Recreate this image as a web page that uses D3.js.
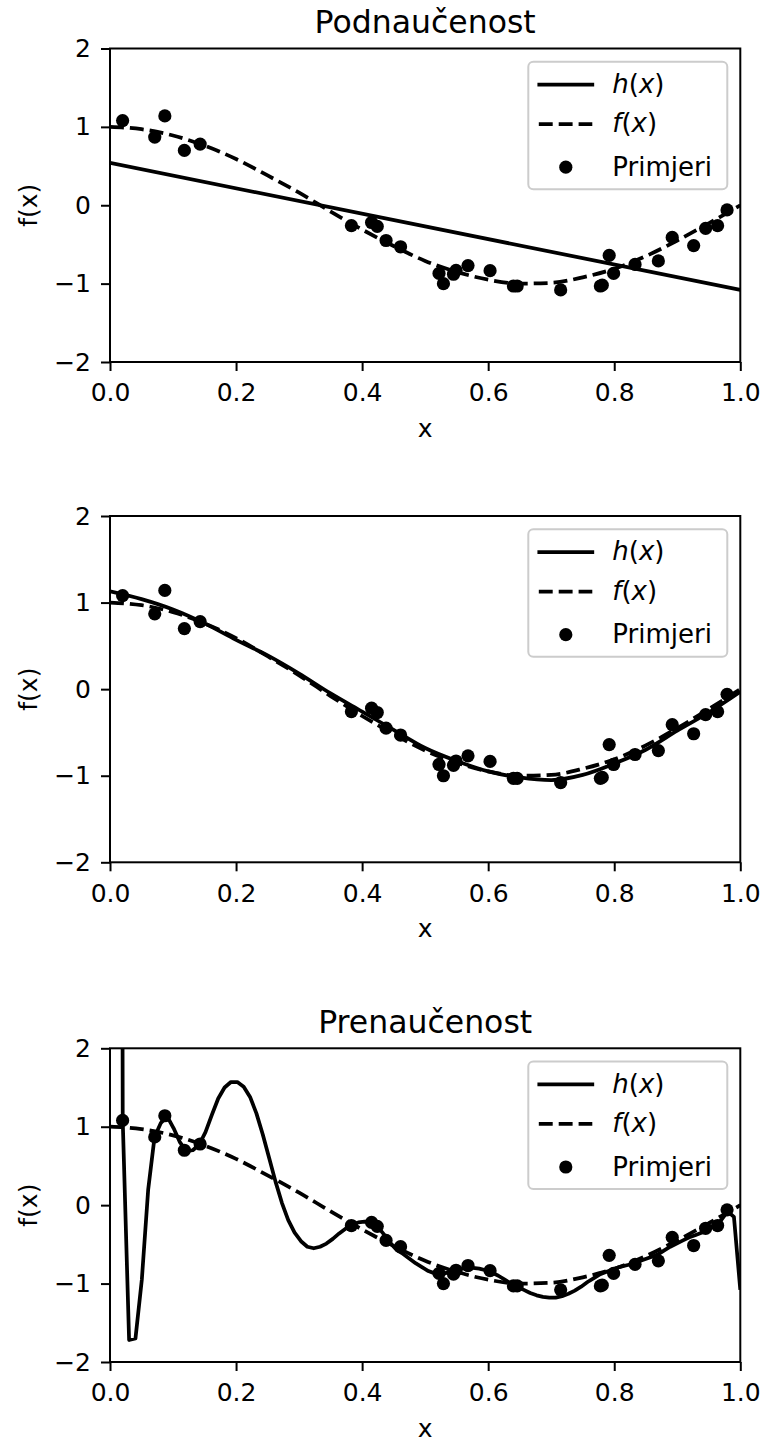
<!DOCTYPE html>
<html>
<head>
<meta charset="utf-8">
<script src="https://cdn.jsdelivr.net/npm/d3@7"></script>
<style>
    html, body { margin: 0; padding: 0; background: #fff; }
    svg { display: block; }
</style>
</head>
<body>
<div id="chart"></div>
<script>
// primjeri (uzorci) - očitano sa slike
const sampleX = [0.020, 0.071, 0.087, 0.118, 0.143, 0.383, 0.415, 0.424, 0.438, 0.461,
    0.522, 0.529, 0.545, 0.549, 0.568, 0.603, 0.640, 0.646, 0.715, 0.778,
    0.781, 0.792, 0.799, 0.833, 0.870, 0.892, 0.926, 0.945, 0.964, 0.979];
const sampleY = [1.08, 0.87, 1.14, 0.70, 0.78, -0.26, -0.22, -0.27, -0.45, -0.53,
    -0.87, -1.00, -0.88, -0.83, -0.77, -0.835, -1.03, -1.03, -1.08, -1.03,
    -1.02, -0.64, -0.87, -0.755, -0.71, -0.41, -0.515, -0.295, -0.26, -0.06];

// prava funkcija f(x)
const trueX = [0, 0.05, 0.1, 0.15, 0.2, 0.25, 0.3, 0.35, 0.4, 0.45, 0.5,
    0.55, 0.6, 0.65, 0.7, 0.75, 0.8, 0.85, 0.9, 0.95, 1.0];
const trueY = [1.0, 0.97, 0.89, 0.76, 0.59, 0.38, 0.16, -0.08, -0.31, -0.52, -0.71,
    -0.85, -0.95, -1.0, -0.99, -0.92, -0.81, -0.65, -0.45, -0.23, 0.0];

// h(x) - podnaučenost (pravac)
const h1X = [0, 1];
const h1Y = [0.54, -1.08];

// h(x) - dobar model
const h2X = trueX;
const h2Y = [1.13, 1.04, 0.92, 0.76, 0.57, 0.39, 0.18, -0.05, -0.26, -0.47, -0.68,
    -0.83, -0.95, -1.02, -1.05, -0.99, -0.86, -0.70, -0.48, -0.27, -0.03];

// h(x) - prenaučenost
const h3X = [0, 0.0101, 0.0202, 0.0303, 0.0404, 0.0505, 0.0606, 0.0707, 0.0808, 0.0909,
    0.1010, 0.1111, 0.1212, 0.1313, 0.1414, 0.1515, 0.1616, 0.1717, 0.1818, 0.1919,
    0.2020, 0.2121, 0.2222, 0.2323, 0.2424, 0.2525, 0.2626, 0.2727, 0.2828, 0.2929,
    0.3030, 0.3131, 0.3232, 0.3333, 0.3434, 0.3535, 0.3636, 0.3737, 0.3838, 0.3939,
    0.4040, 0.4141, 0.4242, 0.4343, 0.4444, 0.4545, 0.4646, 0.4747, 0.4848, 0.4949,
    0.5051, 0.5152, 0.5253, 0.5354, 0.5455, 0.5556, 0.5657, 0.5758, 0.5859, 0.5960,
    0.6061, 0.6162, 0.6263, 0.6364, 0.6465, 0.6566, 0.6667, 0.6768, 0.6869, 0.6970,
    0.7071, 0.7172, 0.7273, 0.7374, 0.7475, 0.7576, 0.7677, 0.7778, 0.7879, 0.7980,
    0.8081, 0.8182, 0.8283, 0.8384, 0.8485, 0.8586, 0.8687, 0.8788, 0.8889, 0.8990,
    0.9091, 0.9192, 0.9293, 0.9394, 0.9495, 0.9596, 0.9697, 0.9798, 0.9899, 1.0];
const h3Y = [90, 40, 1.08, -1.72, -1.70, -0.95, 0.20, 0.87, 1.05, 1.13,
    0.98, 0.80, 0.69, 0.70, 0.77, 0.93, 1.15, 1.36, 1.50, 1.57,
    1.57, 1.51, 1.38, 1.17, 0.90, 0.60, 0.30, 0.03, -0.19, -0.35,
    -0.46, -0.53, -0.55, -0.53, -0.49, -0.43, -0.36, -0.30, -0.25, -0.22,
    -0.21, -0.22, -0.27, -0.37, -0.48, -0.57, -0.62, -0.68, -0.74, -0.79,
    -0.84, -0.87, -0.88, -0.86, -0.83, -0.81, -0.80, -0.80, -0.81, -0.83,
    -0.86, -0.90, -0.95, -1.00, -1.04, -1.08, -1.12, -1.15, -1.17, -1.18,
    -1.18, -1.16, -1.13, -1.09, -1.04, -0.98, -0.93, -0.88, -0.85, -0.82,
    -0.79, -0.77, -0.75, -0.72, -0.69, -0.66, -0.63, -0.58, -0.53, -0.49,
    -0.45, -0.41, -0.38, -0.35, -0.31, -0.26, -0.19, -0.08, -0.15, -1.08];

const xTicks = [0, 0.2, 0.4, 0.6, 0.8, 1.0];
const yTicks = [-2, -1, 0, 1, 2];
const legendLabels = ['h(x)', 'f(x)', 'Primjeri'];

const width = 767;
const height = 1442;
const FONT = "'DejaVu Sans', sans-serif";
const LEFT = 110;
const RIGHT = 740.3;

const panels = [
    { title: 'Podnaučenost', top: 48.5, bottom: 362, hX: h1X, hY: h1Y, curve: d3.curveLinear },
    { title: null, top: 516, bottom: 862.3, hX: h2X, hY: h2Y, curve: d3.curveMonotoneX },
    { title: 'Prenaučenost', top: 1048.3, bottom: 1362, hX: h3X, hY: h3Y, curve: d3.curveLinear }
];

const svg = d3
    .select('#chart')
    .append('svg')
    .attr('width', width)
    .attr('height', height)
    .attr('viewBox', [0, 0, width, height])
    .attr('font-family', FONT);

const defs = svg.append('defs');

// math tekst: h(x) -> kurziv za slova
const mathLabel = (text, label) => {
    const m = label.match(/^(\w)\((\w)\)$/);
    if (!m) {
        text.text(label);
        return;
    }
    text.append('tspan').attr('font-style', 'italic').text(m[1]);
    text.append('tspan').text('(');
    text.append('tspan').attr('font-style', 'italic').text(m[2]);
    text.append('tspan').text(')');
};

const drawLegend = (g, p) => {
    const bx = RIGHT - 13 - 199;
    const by = p.top + 13.2;
    const lg = g.append('g').attr('transform', `translate(${bx},${by})`);

    lg.append('rect')
        .attr('x', 0)
        .attr('y', 0)
        .attr('width', 199)
        .attr('height', 127.6)
        .attr('rx', 5)
        .attr('fill', '#fff')
        .attr('fill-opacity', 0.8)
        .attr('stroke', '#cccccc')
        .attr('stroke-width', 2);

    const rows = [31.3, 70.8, 114];
    rows.forEach((base, i) => {
        const cy = base - 8.5;
        if (i < 2) {
            lg.append('line')
                .attr('x1', i === 0 ? 11 : 10.5)
                .attr('x2', 64)
                .attr('y1', cy)
                .attr('y2', cy)
                .attr('stroke', '#000')
                .attr('stroke-width', 3.75)
                .attr('stroke-linecap', i === 0 ? 'square' : 'butt')
                .attr('stroke-dasharray', i === 1 ? '13.9,6' : null);
        } else {
            lg.append('circle').attr('cx', 37.5).attr('cy', cy).attr('r', 6.6).attr('fill', '#000');
        }
        const t = lg.append('text').attr('x', 84).attr('y', base).attr('font-size', 26).attr('fill', '#000');
        mathLabel(t, legendLabels[i]);
    });
};

const drawPanel = (p, i) => {
    const g = svg.append('g');
    const x = d3.scaleLinear().domain([0, 1]).range([LEFT, RIGHT]);
    const y = d3.scaleLinear().domain([-2, 2]).range([p.bottom, p.top]);

    defs.append('clipPath')
        .attr('id', `clip${i}`)
        .append('rect')
        .attr('x', LEFT)
        .attr('y', p.top)
        .attr('width', RIGHT - LEFT)
        .attr('height', p.bottom - p.top);

    const plot = g.append('g').attr('clip-path', `url(#clip${i})`);
    const line = d3
        .line()
        .x((d) => x(d[0]))
        .y((d) => y(d[1]));

    // h(x)
    plot.append('path')
        .datum(d3.zip(p.hX, p.hY))
        .attr('d', line.curve(p.curve))
        .attr('fill', 'none')
        .attr('stroke', '#000')
        .attr('stroke-width', 3.75)
        .attr('stroke-linejoin', 'round');

    // f(x)
    plot.append('path')
        .datum(d3.zip(trueX, trueY))
        .attr('d', line.curve(d3.curveMonotoneX))
        .attr('fill', 'none')
        .attr('stroke', '#000')
        .attr('stroke-width', 3.75)
        .attr('stroke-dasharray', '13.9,6');

    // primjeri
    plot.append('g')
        .selectAll('circle')
        .data(d3.zip(sampleX, sampleY))
        .join('circle')
        .attr('cx', (d) => x(d[0]))
        .attr('cy', (d) => y(d[1]))
        .attr('r', 6.6)
        .attr('fill', '#000');

    // osi
    const xAxis = d3.axisBottom(x).tickValues(xTicks).tickFormat(d3.format('.1f')).tickSize(9).tickPadding(12.5).tickSizeOuter(0);
    const yAxis = d3.axisLeft(y).tickValues(yTicks).tickFormat(d3.format('d')).tickSize(9).tickPadding(10).tickSizeOuter(0);

    [
        g.append('g').attr('transform', `translate(0,${p.bottom})`).call(xAxis),
        g.append('g').attr('transform', `translate(${LEFT},0)`).call(yAxis)
    ].forEach((ax) => {
        ax.attr('font-family', FONT).attr('font-size', 25);
        ax.select('.domain').remove();
        ax.selectAll('.tick line').attr('stroke', '#000').attr('stroke-width', 2);
        ax.selectAll('.tick text').attr('fill', '#000');
    });

    // okvir
    g.append('rect')
        .attr('x', LEFT)
        .attr('y', p.top)
        .attr('width', RIGHT - LEFT)
        .attr('height', p.bottom - p.top)
        .attr('fill', 'none')
        .attr('stroke', '#000')
        .attr('stroke-width', 2);

    // naslovi osi
    g.append('text')
        .attr('x', (LEFT + RIGHT) / 2)
        .attr('y', p.bottom + 74.5)
        .attr('text-anchor', 'middle')
        .attr('font-size', 25)
        .text('x');

    g.append('text')
        .attr('transform', `translate(36.7,${(p.top + p.bottom) / 2}) rotate(-90)`)
        .attr('text-anchor', 'middle')
        .attr('font-size', 25)
        .text('f(x)');

    if (p.title) {
        g.append('text')
            .attr('x', (LEFT + RIGHT) / 2)
            .attr('y', p.top - 15.8)
            .attr('text-anchor', 'middle')
            .attr('font-size', 31.5)
            .text(p.title);
    }

    drawLegend(g, p);
};

panels.forEach(drawPanel);
</script>
</body>
</html>
